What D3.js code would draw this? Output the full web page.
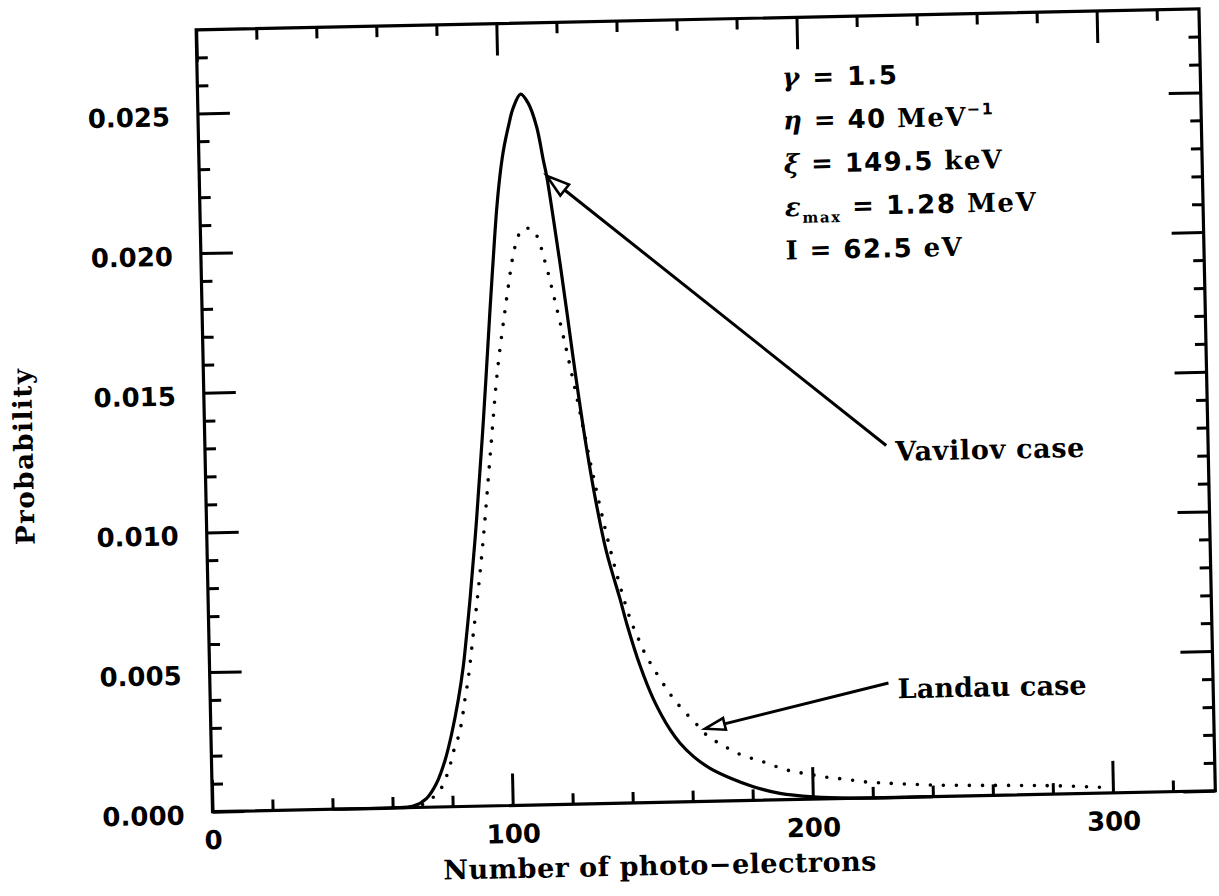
<!DOCTYPE html>
<html>
<head>
<meta charset="utf-8">
<script src="https://cdn.jsdelivr.net/npm/d3@7"></script>
<style>
  body { margin: 0; background: #fff; }
  text { white-space: pre; }
</style>
</head>
<body>
<svg id="chart" width="1219" height="896"></svg>
<script>
// ---------------- data ----------------
const xDomain = [0, 334.1];
const yDomain = [0, 0.02799];
const xMajorTicks = [0, 100, 200, 300];
const xMinorTicks = [20, 40, 60, 80, 120, 140, 160, 180, 220, 240, 260, 280, 320];
const yMajorTicks = [0, 0.005, 0.010, 0.015, 0.020, 0.025];
const yMinorTicks = [0.001, 0.002, 0.003, 0.004, 0.006, 0.007, 0.008, 0.009,
                     0.011, 0.012, 0.013, 0.014, 0.016, 0.017, 0.018, 0.019,
                     0.021, 0.022, 0.023, 0.024, 0.026, 0.027];

// Vavilov case (solid)
const vavilovX = [40, 60, 66.9, 71.4, 74.8, 77.8, 80.2, 82.6, 84.5, 85.9, 87.2, 90, 93, 95.9, 97.3,
                  98.8, 100.1, 101.4, 103.3, 105.0, 107.6, 110.1, 112.7, 114.7, 115.7, 117.6, 119.5,
                  121.4, 124, 127, 130, 133, 137.2, 139.3, 143.4, 147.6, 152.9, 156.2, 160.5, 166.0,
                  172.6, 180.3, 189.1, 200.2, 212, 240];
const vavilovY = [0, 0, 0.00005, 0.00032, 0.00085, 0.00167, 0.00262, 0.00381, 0.0050, 0.00619, 0.00738,
                  0.0103, 0.0139, 0.01775, 0.01953, 0.02132, 0.02251, 0.0234, 0.0243, 0.02495, 0.02545,
                  0.02511, 0.02427, 0.02307, 0.0225, 0.0210, 0.0194, 0.0177, 0.0153, 0.0128, 0.0107,
                  0.0090, 0.0073, 0.0064, 0.0049, 0.0037, 0.0026, 0.0021, 0.00162, 0.00118, 0.00082,
                  0.00049, 0.00023, 0.00008, 0.00001, 0];

// Landau case (dotted)
const landauX = [70, 73, 75.9, 77.9, 79.6, 80.8, 82.4, 83.6, 84.8, 86.1, 88.1, 89.4, 92, 95, 98, 101.3,
                 102.2, 102.8, 103.8, 105.3, 107.0, 108.7, 110.6, 112.7, 114.0, 115.3, 116.4, 117.4,
                 121, 125, 129, 133, 136.5, 139.8, 141.4, 143.0, 145.1, 147.3, 149.4, 152.1, 154.2,
                 157.5, 161.3, 164.5, 168.4, 172.2, 176.6, 181.0, 185.4, 189.8, 194.3, 198.7, 203.7,
                 208.1, 213.1, 217.5, 221.9, 226.9, 241.4, 266.9, 280.2, 296];
const landauY = [0.0001, 0.0003, 0.0006, 0.00102, 0.00155, 0.00202, 0.0025, 0.00303, 0.00381, 0.00458,
                 0.00619, 0.0072, 0.0095, 0.0126, 0.0156, 0.0180, 0.0186, 0.0190, 0.0196, 0.02021,
                 0.0206, 0.02064, 0.0206, 0.02019, 0.01965, 0.01913, 0.0186, 0.01812, 0.0163, 0.0141,
                 0.0118, 0.0097, 0.0081, 0.0068, 0.0063, 0.00588, 0.00534, 0.0049, 0.00452, 0.00405,
                 0.00372, 0.00327, 0.00283, 0.00243, 0.00212, 0.00188, 0.00163, 0.00147, 0.00131,
                 0.00112, 0.00099, 0.0009, 0.00079, 0.00073, 0.00065, 0.00058, 0.00054, 0.0005,
                 0.00041, 0.00034, 0.0003, 0.00021];

// annotation anchors (data units): arrow tip on the curve, arrow tail at the label
const vavilovArrowTip = [115.7, 0.02251];
const vavilovArrowTail = [226.9, 0.0126];
const landauArrowTip = [164.6, 0.0026];
const landauArrowTail = [226.0, 0.0041];
const annotationLabels = ["Vavilov case", "Landau case"];

const xTitle = "Number of photo\u2212electrons";
const yTitle = "Probability";

const paramSymbols   = ["\u03b3", "\u03b7", "\u03be", "\u03b5", "I"];
const paramSubs      = ["", "", "", "max", ""];
const paramValues    = ["1.5", "40", "149.5", "1.28", "62.5"];
const paramUnits     = ["", "MeV", "keV", "MeV", "eV"];
const paramUnitSups  = ["", "\u22121", "", "", ""];

// ---------------- layout ----------------
const W = 1219, H = 896;
const frame = { left: 204.25, right: 1207.25, top: 19.3, bottom: 801.3 };
const tilt = -1.2, pivot = [705.75, 410.3];   // the scanned page is slightly tilted
const INK = "#000";
const SANS = "'DejaVu Sans', sans-serif";
const SERIF = "'DejaVu Serif', serif";

const svg = d3.select("#chart");
svg.append("rect").attr("width", W).attr("height", H).attr("fill", "#fff");
const g = svg.append("g").attr("transform", `rotate(${tilt},${pivot[0]},${pivot[1]})`);

const x = d3.scaleLinear().domain(xDomain).range([frame.left, frame.right]);
const y = d3.scaleLinear().domain(yDomain).range([frame.bottom, frame.top]);

function styleAxis(sel) {
  sel.select(".domain").remove();
  sel.attr("font-family", null).attr("font-size", null);
  sel.selectAll(".tick line").attr("stroke", INK).attr("stroke-width", 3);
  sel.selectAll(".tick text").attr("fill", INK)
    .attr("font-family", SANS).attr("font-weight", "bold").attr("font-size", 26);
}

const noLabel = () => "";
// bottom
g.append("g").attr("transform", `translate(0,${frame.bottom})`)
  .call(d3.axisBottom(x).tickValues(xMinorTicks).tickSize(-11).tickFormat(noLabel)).call(styleAxis);
g.append("g").attr("transform", `translate(0,${frame.bottom})`)
  .call(d3.axisBottom(x).tickValues(xMajorTicks).tickSize(-32).tickPadding(19).tickFormat(d3.format("d")))
  .call(styleAxis);
// top
g.append("g").attr("transform", `translate(0,${frame.top})`)
  .call(d3.axisTop(x).tickValues(xMinorTicks).tickSize(-11).tickFormat(noLabel)).call(styleAxis);
g.append("g").attr("transform", `translate(0,${frame.top})`)
  .call(d3.axisTop(x).tickValues(xMajorTicks).tickSize(-32).tickFormat(noLabel)).call(styleAxis);
// left
g.append("g").attr("transform", `translate(${frame.left},0)`)
  .call(d3.axisLeft(y).tickValues(yMinorTicks).tickSize(-11).tickFormat(noLabel)).call(styleAxis);
const yAx = g.append("g").attr("transform", `translate(${frame.left},0)`)
  .call(d3.axisLeft(y).tickValues(yMajorTicks).tickSize(-32).tickPadding(28).tickFormat(d3.format(".3f")))
  .call(styleAxis);
yAx.selectAll(".tick text").attr("dy", "0.45em");
// right
g.append("g").attr("transform", `translate(${frame.right},0)`)
  .call(d3.axisRight(y).tickValues(yMinorTicks).tickSize(-11).tickFormat(noLabel)).call(styleAxis);
g.append("g").attr("transform", `translate(${frame.right},0)`)
  .call(d3.axisRight(y).tickValues(yMajorTicks).tickSize(-32).tickFormat(noLabel)).call(styleAxis);

// frame
g.append("rect")
  .attr("x", frame.left).attr("y", frame.top)
  .attr("width", frame.right - frame.left).attr("height", frame.bottom - frame.top)
  .attr("fill", "none").attr("stroke", INK).attr("stroke-width", 3.2);

// curves
const line = d3.line().x(d => x(d[0])).y(d => y(d[1])).curve(d3.curveCatmullRom.alpha(0.5));
g.append("path")
  .datum(landauX.map((v, i) => [v, landauY[i]]))
  .attr("d", line).attr("fill", "none").attr("stroke", INK)
  .attr("stroke-width", 3.6).attr("stroke-linecap", "round").attr("stroke-dasharray", "0 13");
g.append("path")
  .datum(vavilovX.map((v, i) => [v, vavilovY[i]]))
  .attr("d", line).attr("fill", "none").attr("stroke", INK)
  .attr("stroke-width", 3.2).attr("stroke-linejoin", "round");

// arrows with open heads
function arrow(tip, tail, headLen, headHalf) {
  const t = [x(tip[0]), y(tip[1])], e = [x(tail[0]), y(tail[1])];
  const dx = e[0] - t[0], dy = e[1] - t[1], L = Math.hypot(dx, dy);
  const ux = dx / L, uy = dy / L, px = -uy, py = ux;
  const b = [t[0] + ux * headLen, t[1] + uy * headLen];
  g.append("line").attr("x1", b[0]).attr("y1", b[1]).attr("x2", e[0]).attr("y2", e[1])
    .attr("stroke", INK).attr("stroke-width", 3);
  g.append("path")
    .attr("d", d3.line()([t, [b[0] + px * headHalf, b[1] + py * headHalf],
                              [b[0] - px * headHalf, b[1] - py * headHalf]]) + "Z")
    .attr("fill", "#fff").attr("stroke", INK).attr("stroke-width", 2.6).attr("stroke-linejoin", "miter");
  return e;
}
const vEnd = arrow(vavilovArrowTip, vavilovArrowTail, 23, 7);
const lEnd = arrow(landauArrowTip, landauArrowTail, 20, 6);

[[vEnd, annotationLabels[0]], [lEnd, annotationLabels[1]]].forEach(([p, label]) => {
  g.append("text").attr("x", p[0] + 9).attr("y", p[1] + 15.5)
    .attr("font-family", SERIF).attr("font-weight", "bold").attr("font-size", 27)
    .attr("textLength", 189).attr("lengthAdjust", "spacing")
    .attr("fill", INK).text(label);
});

// parameter block
const paramWidths = [115, 210, 218, 251, 176];
paramSymbols.forEach((sym, i) => {
  const t = g.append("text").attr("x", 789).attr("y", 88 + 43.3 * i)
    .attr("font-size", 26).attr("font-weight", "bold").attr("fill", INK)
    .attr("textLength", paramWidths[i]).attr("lengthAdjust", "spacing");
  t.append("tspan").attr("font-family", SERIF)
    .attr("font-style", sym === "I" ? "normal" : "italic").text(sym);
  let shift = 0;
  if (paramSubs[i]) {
    t.append("tspan").attr("font-family", SERIF).attr("font-size", 15).attr("dy", 7).text(paramSubs[i]);
    shift = -7;
  }
  const eq = t.append("tspan").attr("font-family", SANS).text(" = ");
  if (shift) eq.attr("dy", shift);
  t.append("tspan").attr("font-family", SANS).text(paramValues[i]);
  if (paramUnits[i]) t.append("tspan").attr("font-family", SERIF).text(" " + paramUnits[i]);
  if (paramUnitSups[i]) t.append("tspan").attr("font-family", SANS).attr("font-size", 16)
    .attr("dy", -11).text(paramUnitSups[i]);
});

// axis titles
g.append("text").attr("x", 650.3).attr("y", 874).attr("text-anchor", "middle")
  .attr("font-family", SERIF).attr("font-weight", "bold").attr("font-size", 27)
  .attr("textLength", 433).attr("lengthAdjust", "spacing").attr("fill", INK).text(xTitle);
g.append("text").attr("transform", "translate(32,442.7) rotate(-90)").attr("text-anchor", "middle")
  .attr("font-family", SERIF).attr("font-weight", "bold").attr("font-size", 26)
  .attr("textLength", 176).attr("lengthAdjust", "spacing").attr("fill", INK).text(yTitle);
</script>
</body>
</html>
